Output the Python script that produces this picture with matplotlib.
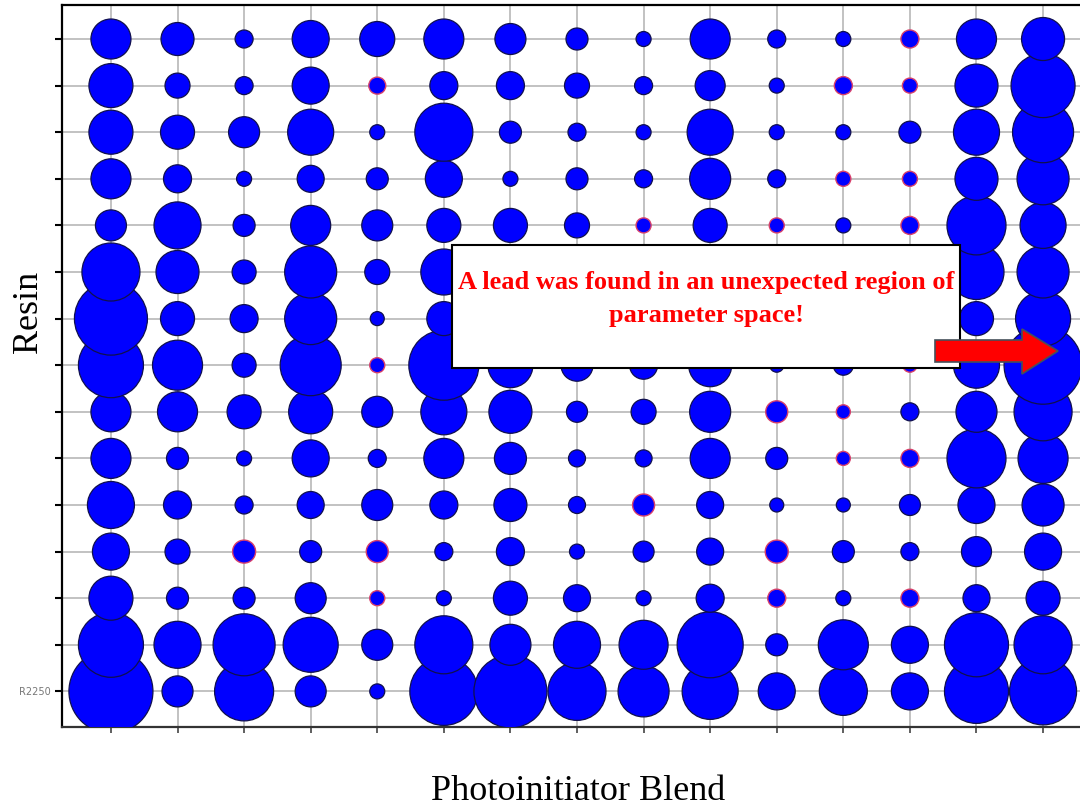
import matplotlib
matplotlib.use("Agg")
import matplotlib.pyplot as plt
from matplotlib.patches import Rectangle, Polygon

# Screening response for each resin (rows, top to bottom) x photoinitiator blend (columns)
response = [
    [40, 33, 18, 37, 35, 40, 31, 22, 15, 40, 18, 15, 18, 40, 43],
    [44, 25, 18, 37, 17, 28, 28, 25, 18, 30, 15, 18, 15, 43, 64],
    [44, 34, 31, 46, 15, 58, 22, 18, 15, 46, 15, 15, 22, 46, 61],
    [40, 28, 15, 27, 22, 37, 15, 22, 18, 41, 18, 15, 15, 43, 52],
    [31, 47, 22, 40, 31, 34, 34, 25, 15, 34, 15, 15, 18, 59, 46],
    [58, 43, 24, 52, 25, 46, 30, 20, 15, 30, 18, 15, 18, 55, 52],
    [73, 34, 28, 52, 14, 34, 28, 18, 15, 34, 15, 15, 18, 34, 55],
    [65, 50, 24, 61, 15, 70, 45, 32, 28, 43, 14, 20, 14, 46, 78],
    [40, 40, 34, 44, 31, 46, 43, 21, 25, 41, 22, 14, 18, 41, 58],
    [40, 22, 15, 37, 18, 40, 32, 17, 17, 40, 22, 14, 18, 59, 50],
    [47, 28, 18, 27, 31, 28, 33, 17, 22, 27, 14, 14, 21, 37, 42],
    [37, 25, 23, 22, 22, 18, 28, 15, 21, 27, 23, 22, 18, 30, 37],
    [44, 22, 22, 31, 15, 15, 34, 27, 15, 28, 18, 15, 18, 27, 34],
    [65, 47, 62, 55, 31, 58, 41, 47, 49, 66, 22, 50, 37, 64, 58],
    [84, 31, 59, 31, 15, 68, 73, 58, 51, 56, 37, 48, 37, 64, 67],
]

# Cells flagged as failing (row, column), same ordering as above
flagged = [
    (0, 12),
    (1, 4), (1, 11), (1, 12),
    (3, 11), (3, 12),
    (4, 8), (4, 10), (4, 12),
    (7, 4), (7, 12),
    (8, 10), (8, 11),
    (9, 11), (9, 12),
    (10, 8),
    (11, 2), (11, 4), (11, 10),
    (12, 4), (12, 10), (12, 12),
]

resin_labels = [""] * 14 + ["R2250"]  # top to bottom
annotation_lines = ["A lead was found in an unexpected region of", "parameter space!"]

W, H = 1080, 808
DPI = 100
fig = plt.figure(figsize=(W / DPI, H / DPI), dpi=DPI)
fig.patch.set_facecolor("white")


def fx(px):
    return px / W


def fy(py):
    return 1 - py / H


ax = fig.add_axes([fx(62), fy(727), (1093 - 62) / W, (727 - 5) / H])

n_rows = len(response)
n_cols = len(response[0])
flag_set = set(flagged)

xs, ys, sizes, edges, widths = [], [], [], [], []
# draw the bottom row first so upper rows overlap it
for r in range(n_rows - 1, -1, -1):
    for c in range(n_cols):
        d = response[r][c] * 72.0 / DPI
        xs.append(c)
        ys.append(n_rows - 1 - r)
        sizes.append(d * d)
        if (r, c) in flag_set:
            edges.append("#d8406a")
            widths.append(1.0)
        else:
            edges.append("#10104e")
            widths.append(0.9)

ax.scatter(xs, ys, s=sizes, c="#0000ff", edgecolors=edges, linewidths=widths, zorder=3)

ax.set_xlim(-0.735, 14.75)
ax.set_ylim(-0.764, 14.73)
ax.set_xticks(range(n_cols))
ax.set_xticklabels([])
ax.set_yticks(range(n_rows))
ax.set_yticklabels(resin_labels[::-1], fontsize=7, color="#777777")
ax.tick_params(axis="x", length=4, width=1.2, color="#444444", direction="out")
ax.tick_params(axis="y", length=5, width=1.5, color="black", direction="out", pad=3)
ax.grid(True, color="#b8b8b8", linewidth=1.2)
ax.set_axisbelow(True)
for side in ("left", "top"):
    ax.spines[side].set_linewidth(1.6)
    ax.spines[side].set_color("black")
ax.spines["bottom"].set_linewidth(1.6)
ax.spines["bottom"].set_color("#333333")
ax.spines["right"].set_visible(False)

serif = ["Liberation Serif", "DejaVu Serif"]
fig.text(fx(29), fy(312), "Resin", rotation=90, ha="center", va="center",
         fontsize=26, family=serif)
fig.text(fx(578), fy(791), "Photoinitiator Blend", ha="center", va="center",
         fontsize=26, family=serif)

# callout box
box = Rectangle((fx(452), fy(368)), (960 - 452) / W, (368 - 245) / H,
                transform=fig.transFigure, facecolor="white", edgecolor="black",
                linewidth=1.5, zorder=5)
fig.add_artist(box)
for line, base in zip(annotation_lines, (289, 322)):
    fig.text(fx(706), fy(base), line, ha="center", va="baseline", color="#ff0000",
             fontsize=19, fontweight="bold", family=serif, zorder=6)

# arrow pointing at the lead
arrow_px = [(935, 340), (1022, 340), (1022, 329), (1058, 351),
            (1022, 374), (1022, 362), (935, 362)]
arrow = Polygon([(fx(x), fy(y)) for x, y in arrow_px], closed=True,
                transform=fig.transFigure, facecolor="#ff0000",
                edgecolor="#46505a", linewidth=1.2, zorder=7)
fig.add_artist(arrow)

fig.savefig("out.png", dpi=DPI)
